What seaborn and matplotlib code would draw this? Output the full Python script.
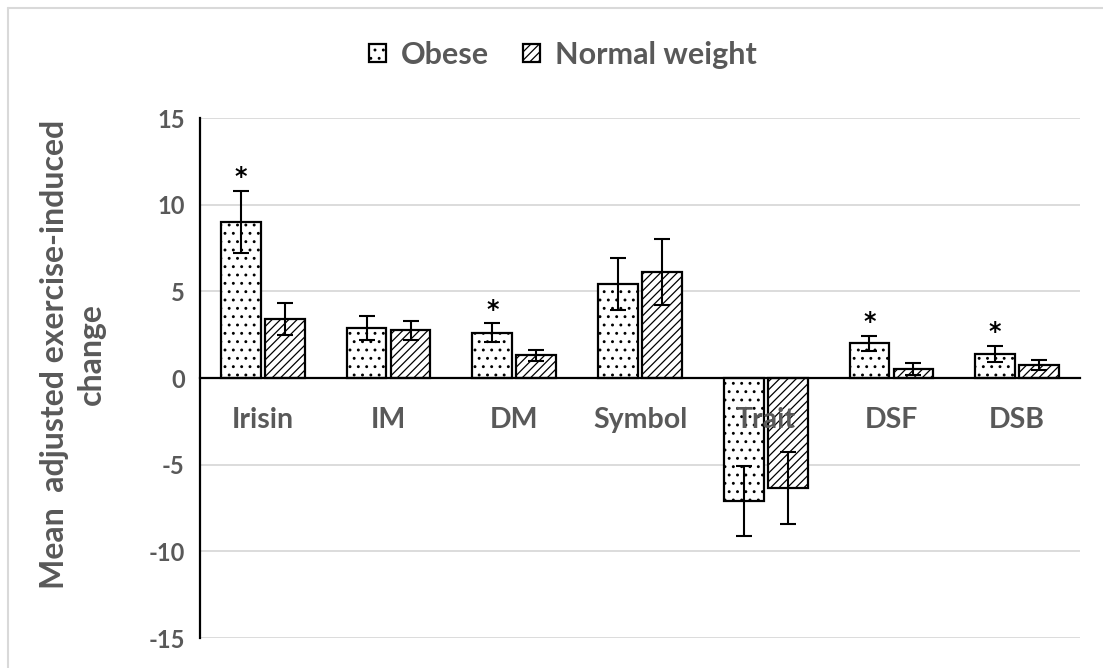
import matplotlib
matplotlib.use("Agg")
import matplotlib.pyplot as plt
from matplotlib.patches import Patch
from matplotlib.lines import Line2D
import numpy as np
import pandas as pd
import seaborn as sns

# Measures and group means/SE of the exercise-induced change
categories = ["Irisin", "IM", "DM", "Symbol", "Trait", "DSF", "DSB"]
groups = ["Obese", "Normal weight"]
obese_mean = [9.0, 2.9, 2.6, 5.4, -7.1, 2.0, 1.4]
obese_err = [1.8, 0.7, 0.55, 1.5, 2.0, 0.45, 0.45]
normal_mean = [3.4, 2.75, 1.3, 6.1, -6.35, 0.5, 0.75]
normal_err = [0.9, 0.55, 0.3, 1.9, 2.1, 0.35, 0.3]
significant = [True, False, True, False, False, True, True]
y_ticks = [15, 10, 5, 0, -5, -10, -15]

TEXT = "#595959"

sns.set_theme(style="white")
plt.rcParams["font.family"] = ["Lato", "DejaVu Sans"]
plt.rcParams["font.weight"] = "bold"
plt.rcParams["hatch.linewidth"] = 0.9
plt.rcParams["hatch.color"] = "black"

df = pd.DataFrame({
    "measure": categories * 2,
    "group": [groups[0]] * len(categories) + [groups[1]] * len(categories),
    "value": obese_mean + normal_mean,
})

fig = plt.figure(figsize=(11.03, 6.68), dpi=100)
ax = fig.add_axes([200 / 1103, 1 - 638 / 668, (1080 - 200) / 1103, (638 - 118) / 668])

sns.barplot(data=df, x="measure", y="value", hue="group", order=categories,
            hue_order=groups, width=0.7, gap=0.1, errorbar=None,
            palette=["white", "white"], edgecolor="black", linewidth=1.6,
            legend=False, ax=ax, zorder=3)

hatches = {"Obese": "..", "Normal weight": "////"}
for grp, cont, err in zip(groups, ax.containers, [obese_err, normal_err]):
    xs, ys = [], []
    for bar in cont:
        bar.set_hatch(hatches[grp])
        bar.set_facecolor("white")
        bar.set_edgecolor("black")
        xs.append(bar.get_x() + bar.get_width() / 2)
        ys.append(bar.get_height())
    ax.errorbar(xs, ys, yerr=err, fmt="none", ecolor="black", elinewidth=1.5,
                capsize=5.5, capthick=1.5, zorder=4)
    if grp == "Obese":
        for x, y, e, sig in zip(xs, ys, err, significant):
            if sig:
                ax.text(x, y + e + 0.8, "*", ha="center", va="center",
                        fontsize=17, color="black", family="DejaVu Sans",
                        fontweight="bold", zorder=5)

ax.set_ylim(-15, 15)
ax.set_xlim(-0.5, len(categories) - 0.5)
ax.set_yticks(y_ticks)
ax.set_yticklabels([str(t) for t in y_ticks])
ax.yaxis.grid(True, color="#d9d9d9", linewidth=1.3)
ax.set_axisbelow(True)
# category names sit on the zero line and stay readable over the bars
ax.xaxis.set_zorder(10)

for side in ["top", "right"]:
    ax.spines[side].set_visible(False)
ax.spines["left"].set_color("black")
ax.spines["left"].set_linewidth(1.6)
ax.spines["bottom"].set_position(("data", 0))
ax.spines["bottom"].set_color("black")
ax.spines["bottom"].set_linewidth(1.6)
ax.spines["bottom"].set_zorder(6)

ax.tick_params(axis="y", length=0, pad=11, labelsize=17, labelcolor=TEXT)
ax.tick_params(axis="x", length=0, pad=21, labelsize=20.5, labelcolor=TEXT)
for lab in ax.get_xticklabels() + ax.get_yticklabels():
    lab.set_fontweight("bold")
ax.set_xlabel("")
ax.set_ylabel("")

fig.text(73 / 1103, 1 - 354 / 668, "Mean  adjusted exercise-induced\nchange",
         rotation=90, ha="center", va="center", multialignment="center",
         fontsize=23, fontweight="bold", color=TEXT, linespacing=1.3)

handles = [Patch(facecolor="white", edgecolor="black", hatch=hatches[g], linewidth=1.6)
           for g in groups]
leg = fig.legend(handles, groups, loc="center", bbox_to_anchor=(563 / 1103, 1 - 55 / 668),
                 ncol=2, frameon=False, handlelength=0.55, handleheight=0.55,
                 handletextpad=0.5, columnspacing=1.1,
                 prop={"weight": "bold", "size": 22})
for t in leg.get_texts():
    t.set_color(TEXT)

# chart-area frame (top and left edges)
fig.add_artist(Line2D([7.5 / 1103, 7.5 / 1103], [0, 1 - 7.5 / 668], color="#d9d9d9",
                      linewidth=1.5, transform=fig.transFigure))
fig.add_artist(Line2D([7.5 / 1103, 1], [1 - 7.5 / 668, 1 - 7.5 / 668], color="#d9d9d9",
                      linewidth=1.5, transform=fig.transFigure))

fig.savefig("out.png", dpi=100, facecolor="white")
